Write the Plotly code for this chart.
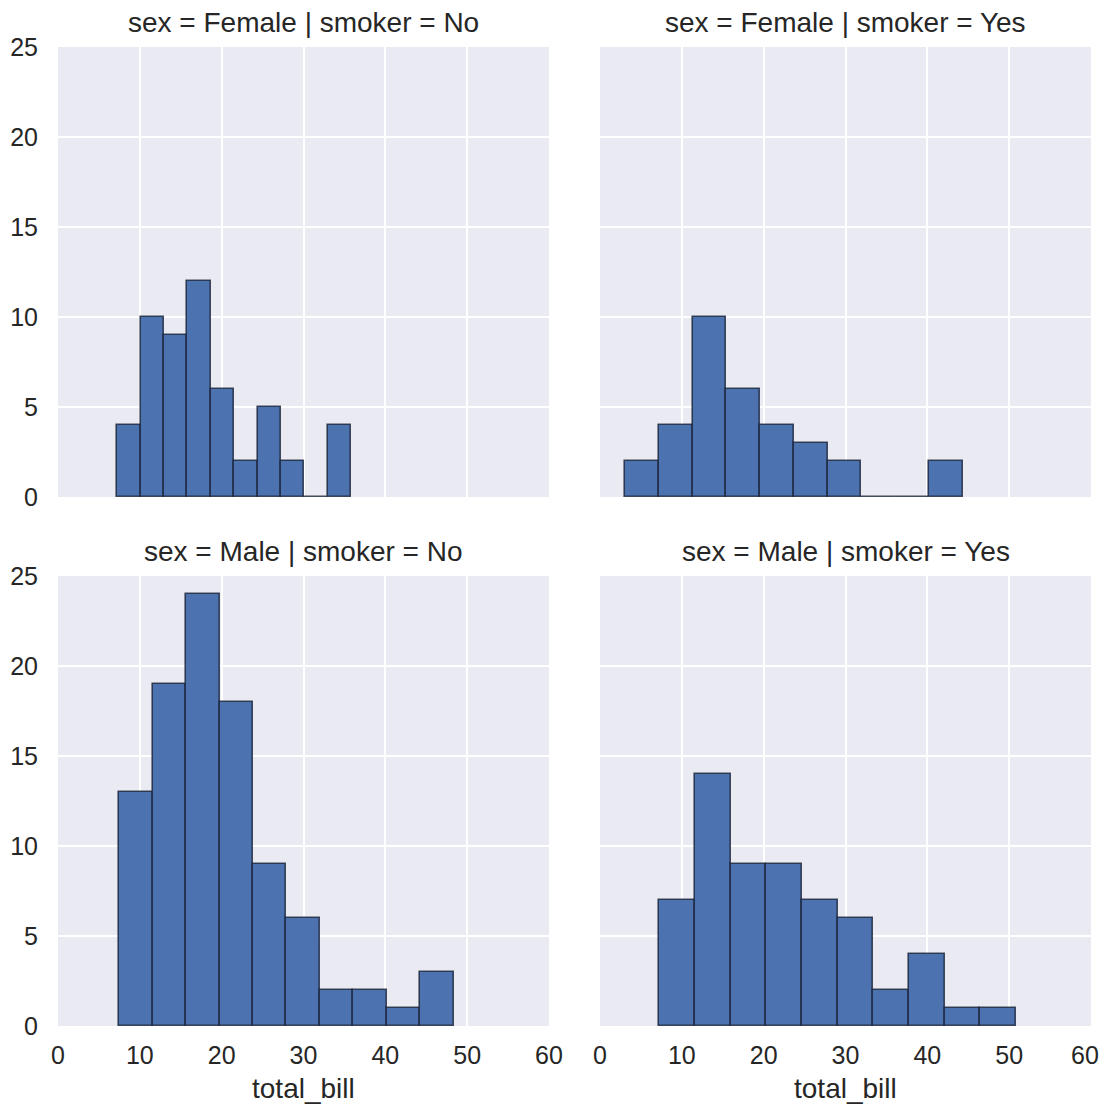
import numpy as np
import plotly.graph_objects as go

# ---- data ----
panel_titles = ["sex = Female | smoker = No", "sex = Female | smoker = Yes",
                "sex = Male | smoker = No", "sex = Male | smoker = Yes"]
female_no_range = [7.25, 35.83]
female_no_counts = [4, 10, 9, 12, 6, 2, 5, 2, 0, 4]
female_yes_range = [3.07, 44.30]
female_yes_counts = [2, 4, 10, 6, 4, 3, 2, 0, 0, 2]
male_no_range = [7.51, 48.33]
male_no_counts = [13, 19, 24, 18, 9, 6, 2, 2, 1, 3]
male_yes_range = [7.25, 50.81]
male_yes_counts = [7, 14, 9, 9, 7, 6, 2, 4, 1, 1]
x_ticks = [0, 10, 20, 30, 40, 50, 60]
y_ticks = [0, 5, 10, 15, 20, 25]
x_label = "total_bill"

panels = [(female_no_range, female_no_counts), (female_yes_range, female_yes_counts),
          (male_no_range, male_no_counts), (male_yes_range, male_yes_counts)]

W, H = 1091, 1096
OFF = 8
FONT = "Liberation Sans, Arial, Helvetica, sans-serif"
TXT = "#262626"
TICK = 25
LABEL = 28

def xd(a, b):
    return [(a - OFF) / W, (b - OFF) / W]

def yd(top, bottom):
    return [(H - (bottom - OFF)) / H, (H - (top - OFF)) / H]

xdoms = [xd(58, 549), xd(600, 1091)]
ydoms = [yd(47, 497), yd(576, 1026)]

fig = go.Figure()
for i, ((lo, hi), counts) in enumerate(panels):
    edges = np.linspace(lo, hi, len(counts) + 1)
    centers = (edges[:-1] + edges[1:]) / 2
    widths = np.diff(edges)
    n = i + 1
    fig.add_trace(go.Bar(
        x=centers, y=counts, width=widths,
        marker=dict(color="#4C72B0", line=dict(color="rgba(25,35,55,0.8)", width=1.6)),
        xaxis="x" if n == 1 else f"x{n}", yaxis="y" if n == 1 else f"y{n}",
        showlegend=False,
    ))

for i in range(4):
    n = i + 1
    row, col = divmod(i, 2)
    xs = "xaxis" if n == 1 else f"xaxis{n}"
    ys = "yaxis" if n == 1 else f"yaxis{n}"
    yname = "y" if n == 1 else f"y{n}"
    xname = "x" if n == 1 else f"x{n}"
    # the last tick label of the right column sits at the page edge; it is drawn
    # as an annotation nudged slightly inward so that it is not cut off
    last_col = (col == 1)
    fig.layout[xs] = dict(
        domain=xdoms[col], anchor=yname, range=[0, 60], tickvals=x_ticks,
        ticktext=[str(v) if not (last_col and v == x_ticks[-1]) else "" for v in x_ticks],
        showticklabels=(row == 1), showgrid=True, gridcolor="white", gridwidth=2,
        zeroline=False, showline=False, ticks="", ticklabelstandoff=12,
        automargin=False, ticklabeloverflow="allow",
        tickfont=dict(family=FONT, size=TICK, color=TXT),
        fixedrange=True,
    )
    fig.layout[ys] = dict(
        domain=ydoms[row], anchor=xname, range=[0, 25], tickvals=y_ticks,
        showticklabels=(col == 0), showgrid=True, gridcolor="white", gridwidth=2,
        zeroline=False, showline=False, ticks="", ticklabelstandoff=19,
        automargin=False, ticklabeloverflow="allow",
        tickfont=dict(family=FONT, size=TICK, color=TXT),
        fixedrange=True,
    )
    fig.add_annotation(
        text=panel_titles[i], xref="paper", yref="paper",
        x=(xdoms[col][0] + xdoms[col][1]) / 2,
        y=ydoms[row][1] + 25 / H, yanchor="middle", xanchor="center",
        showarrow=False, font=dict(family=FONT, size=LABEL, color=TXT),
    )
    if row == 1:
        # x-axis label under each bottom panel
        fig.add_annotation(
            text=x_label, xref="paper", yref="paper",
            x=(xdoms[col][0] + xdoms[col][1]) / 2,
            y=ydoms[row][0] - 62 / H, yanchor="middle", xanchor="center",
            showarrow=False, font=dict(family=FONT, size=LABEL, color=TXT),
        )
    if row == 1 and last_col:
        fig.add_annotation(
            text=str(x_ticks[-1]), xref=xname, yref="paper",
            x=x_ticks[-1], y=ydoms[row][0], yanchor="top", xanchor="center",
            yshift=-13, xshift=-6,
            showarrow=False, font=dict(family=FONT, size=TICK, color=TXT),
        )

fig.update_layout(
    width=W, height=H, margin=dict(l=0, r=0, t=0, b=0, autoexpand=False),
    paper_bgcolor="white", plot_bgcolor="#EAEAF2", bargap=0,
)
fig.write_html("out.html")
